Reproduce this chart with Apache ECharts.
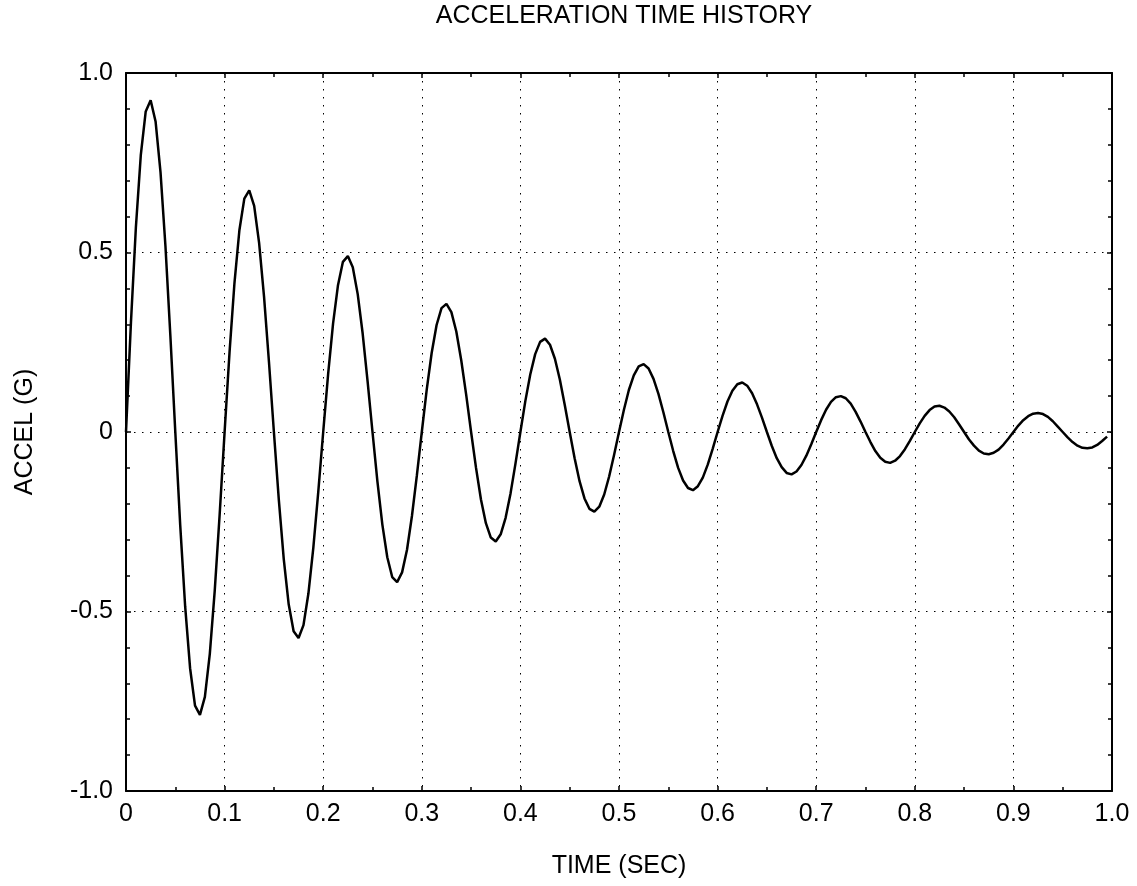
<!DOCTYPE html>
<html>
<head>
<meta charset="utf-8">
<title>Acceleration Time History</title>
<script src="https://cdn.jsdelivr.net/npm/echarts@6/dist/echarts.min.js"></script>
<style>
  html, body { margin: 0; padding: 0; background: #fff; }
  #chart { width: 1137px; height: 886px; }
</style>
</head>
<body>
<div id="chart"></div>
<script>
// sampled every 0.005 sec, starting at t = 0
const SAMPLE_DT = 0.005;

// acceleration (G), one row per 0.05 sec
const accel = [
  0, 0.304, 0.569, 0.771, 0.893, 0.924, 0.865, 0.724, 0.518, 0.268,
  0, -0.260, -0.486, -0.658, -0.762, -0.788, -0.738, -0.618, -0.442, -0.229,
  0, 0.222, 0.415, 0.562, 0.650, 0.673, 0.630, 0.527, 0.377, 0.195,
  0, -0.189, -0.354, -0.480, -0.555, -0.574, -0.538, -0.450, -0.322, -0.167,
  0, 0.161, 0.302, 0.409, 0.474, 0.490, 0.459, 0.384, 0.275, 0.142,
  0, -0.138, -0.258, -0.349, -0.404, -0.418, -0.391, -0.328, -0.234, -0.121,
  0, 0.118, 0.220, 0.298, 0.345, 0.357, 0.334, 0.280, 0.200, 0.104,
  0, -0.100, -0.188, -0.254, -0.294, -0.305, -0.285, -0.239, -0.171, -0.088,
  0, 0.086, 0.160, 0.217, 0.251, 0.260, 0.243, 0.204, 0.146, 0.075,
  0, -0.073, -0.137, -0.185, -0.214, -0.222, -0.208, -0.174, -0.124, -0.064,
  0, 0.062, 0.117, 0.158, 0.183, 0.189, 0.177, 0.148, 0.106, 0.055,
  0, -0.053, -0.100, -0.135, -0.156, -0.162, -0.151, -0.127, -0.091, -0.047,
  0, 0.045, 0.085, 0.115, 0.133, 0.138, 0.129, 0.108, 0.077, 0.040,
  0, -0.039, -0.073, -0.098, -0.114, -0.118, -0.110, -0.092, -0.066, -0.034,
  0, 0.033, 0.062, 0.084, 0.097, 0.100, 0.094, 0.079, 0.056, 0.029,
  0, -0.028, -0.053, -0.072, -0.083, -0.086, -0.080, -0.067, -0.048, -0.025,
  0, 0.024, 0.045, 0.061, 0.071, 0.073, 0.068, 0.057, 0.041, 0.021,
  0, -0.021, -0.038, -0.052, -0.060, -0.062, -0.058, -0.049, -0.035, -0.018,
  0, 0.018, 0.033, 0.044, 0.051, 0.053, 0.050, 0.042, 0.030, 0.015,
  0, -0.015, -0.028, -0.038, -0.044, -0.045, -0.043, -0.036, -0.025, -0.013
];

const timeTicks = [0, 0.1, 0.2, 0.3, 0.4, 0.5, 0.6, 0.7, 0.8, 0.9, 1.0];
const accelTicks = [-1.0, -0.5, 0, 0.5, 1.0];

const FONT = '"Liberation Sans", Arial, Helvetica, sans-serif';
const BLACK = "#000";

function tickLabel(v) {
  if (Math.abs(v) < 1e-9) {
    return "0";
  }
  return v.toFixed(1);
}

// axis used only for the frame and tick marks on the top / right side
function frameAxis(pos, ticks, minorSplit) {
  return {
    type: "value",
    position: pos,
    min: ticks[0],
    max: ticks[ticks.length - 1],
    interval: ticks[1] - ticks[0],
    axisLine: { show: true, onZero: false, lineStyle: { color: BLACK, width: 2 } },
    axisTick: { show: true, inside: true, length: 5, lineStyle: { color: BLACK, width: 1.5 } },
    minorTick: { show: true, splitNumber: minorSplit, length: 4, lineStyle: { color: BLACK, width: 1.5 } },
    axisLabel: { show: false },
    splitLine: { show: false },
  };
}

const chart = echarts.init(document.getElementById("chart"), null, { renderer: "canvas" });

const points = accel.map((a, i) => [+(i * SAMPLE_DT).toFixed(3), a]);

chart.setOption({
  animation: false,
  backgroundColor: "#fff",
  textStyle: { fontFamily: FONT, color: BLACK },
  title: {
    text: "ACCELERATION TIME HISTORY",
    left: 619,
    textAlign: "center",
    top: -1,
    textStyle: { fontFamily: FONT, fontSize: 25, fontWeight: "normal", color: BLACK },
  },
  grid: {
    left: 126,
    right: 25,
    top: 73,
    bottom: 95,
    containLabel: false,
  },
  xAxis: [
    {
      type: "value",
      position: "bottom",
      min: timeTicks[0],
      max: timeTicks[timeTicks.length - 1],
      interval: timeTicks[1] - timeTicks[0],
      name: "TIME (SEC)",
      nameLocation: "middle",
      nameGap: 63,
      nameTextStyle: { fontFamily: FONT, fontSize: 25, color: BLACK },
      axisLine: { show: true, onZero: false, lineStyle: { color: BLACK, width: 2 } },
      axisTick: { show: true, inside: true, length: 5, lineStyle: { color: BLACK, width: 1.5 } },
      minorTick: { show: true, splitNumber: 2, length: 4, lineStyle: { color: BLACK, width: 1.5 } },
      axisLabel: { fontFamily: FONT, fontSize: 25, color: BLACK, margin: 11, formatter: tickLabel },
      splitLine: { show: true, lineStyle: { color: BLACK, width: 1, type: [1.5, 6.5] } },
    },
    frameAxis("top", timeTicks, 2),
  ],
  yAxis: [
    {
      type: "value",
      position: "left",
      min: accelTicks[0],
      max: accelTicks[accelTicks.length - 1],
      interval: accelTicks[1] - accelTicks[0],
      name: "ACCEL (G)",
      nameLocation: "middle",
      nameGap: 88,
      nameTextStyle: { fontFamily: FONT, fontSize: 25, color: BLACK },
      axisLine: { show: true, onZero: false, lineStyle: { color: BLACK, width: 2 } },
      axisTick: { show: true, inside: true, length: 5, lineStyle: { color: BLACK, width: 1.5 } },
      minorTick: { show: true, splitNumber: 5, length: 4, lineStyle: { color: BLACK, width: 1.5 } },
      axisLabel: { fontFamily: FONT, fontSize: 25, color: BLACK, margin: 13, formatter: tickLabel },
      splitLine: { show: true, lineStyle: { color: BLACK, width: 1, type: [1.5, 6.5] } },
    },
    frameAxis("right", accelTicks, 5),
  ],
  series: [
    {
      name: "accel",
      type: "line",
      xAxisIndex: 0,
      yAxisIndex: 0,
      data: points,
      showSymbol: false,
      smooth: false,
      lineStyle: { color: BLACK, width: 2.5 },
      z: 3,
    },
  ],
});
</script>
</body>
</html>
